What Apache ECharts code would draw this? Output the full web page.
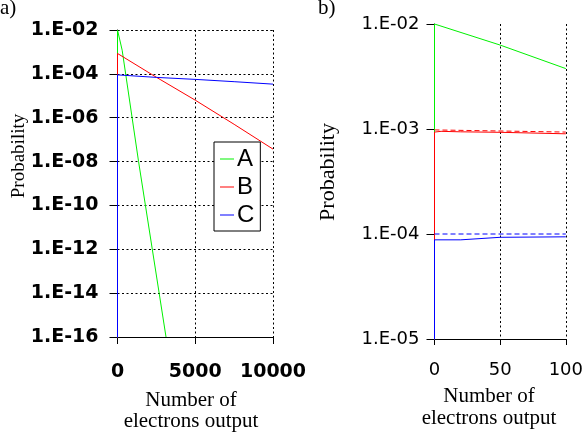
<!DOCTYPE html>
<html>
<head>
<meta charset="utf-8">
<script src="https://cdn.jsdelivr.net/npm/echarts@6/dist/echarts.min.js"></script>
<style>
  html, body { margin: 0; padding: 0; background: #fff; }
  #main { width: 586px; height: 437px; }
</style>
</head>
<body>
<div id="main"></div>
<script>
// panel a) : 0 .. 10000 electrons
var aA = [[0, 1e-20], [0, 1e-2], [300, 1.2e-3], [1355, 1e-8], [3120, 1e-16]];
var aB = [[0, 1e-20], [0, 8.5e-4], [2500, 7e-5], [5000, 6.3e-6], [7500, 5e-7], [10000, 3.7e-8]];
var aC = [[0, 1e-20], [0, 9e-5], [2500, 6.9e-5], [5000, 5.6e-5], [7500, 4.4e-5], [10000, 3.4e-5]];

// panel b) : 0 .. 100 electrons
var bA = [[0, 1e-20], [0, 1e-2], [50, 6.3e-3], [100, 3.76e-3]];
var bB = [[0, 1e-20], [0, 9.35e-4], [5, 9.5e-4], [20, 9.4e-4], [50, 9.3e-4], [100, 9.0e-4]];
var bC = [[0, 1e-20], [0, 8.8e-5], [20, 8.8e-5], [20, 9.1e-5], [50, 9.3e-5], [100, 9.4e-5]];
var bBref = [[0, 9.8e-4], [100, 9.35e-4]];
var bCref = [[0, 1e-4], [100, 1e-4]];

var names = ['A', 'B', 'C'];
var colors = ['#00f000', '#ff0000', '#0000ff'];

var chart = echarts.init(document.getElementById('main'));

// 1e-2 -> "1.E-02"
function expLabel(v) {
  var e = Math.round(Math.log10(v));
  var n = -e;
  return '1.E-' + (n < 10 ? '0' : '') + n;
}

function plain(v) {
  return String(v);
}

function line(name, data, color, x, dash) {
  return {
    name: name,
    type: 'line',
    xAxisIndex: x,
    yAxisIndex: x,
    data: data,
    showSymbol: false,
    clip: true,
    silent: true,
    itemStyle: { color: color },
    lineStyle: { color: color, width: 1, type: dash || 'solid' }
  };
}

var dotted = { color: '#000', width: 1, type: [2, 2.5] };

var option = {
  animation: false,
  backgroundColor: '#fff',
  grid: [
    { left: 117.5, top: 30, width: 155.5, height: 307 },
    { left: 434.5, top: 24, width: 134.5, height: 315 }
  ],
  legend: {
    data: names,
    orient: 'vertical',
    left: 214,
    top: 142,
    padding: [5, 6, 4, 6],
    itemGap: 4,
    itemWidth: 14,
    itemHeight: 1,
    icon: 'rect',
    backgroundColor: '#fff',
    borderColor: '#000',
    borderWidth: 1,
    borderRadius: 0,
    selectedMode: false,
    textStyle: { fontFamily: 'Liberation Sans', fontSize: 24, color: '#000', lineHeight: 24, padding: [0, 0, 0, -2] }
  },
  xAxis: [
    {
      type: 'value', gridIndex: 0, min: 0, max: 10000, interval: 5000,
      axisLine: { lineStyle: { color: '#000', width: 1 } },
      axisTick: { length: 7, lineStyle: { color: '#000' } },
      axisLabel: { margin: 26, color: '#000', fontFamily: 'DejaVu Sans', fontWeight: 'bold', fontSize: 19, formatter: plain },
      splitLine: { show: true, lineStyle: dotted }
    },
    {
      type: 'value', gridIndex: 1, min: 0, max: 100, interval: 50,
      axisLine: { lineStyle: { color: '#000', width: 1 } },
      axisTick: { length: 6, lineStyle: { color: '#000' } },
      axisLabel: { margin: 22, color: '#000', fontFamily: 'DejaVu Sans', fontSize: 18, formatter: plain },
      splitLine: { show: true, lineStyle: dotted }
    }
  ],
  yAxis: [
    {
      type: 'log', logBase: 10, gridIndex: 0, min: 1e-16, max: 1e-2, interval: 2,
      axisLine: { show: true, lineStyle: { color: '#000', width: 1 } },
      axisTick: { show: true, length: 8, lineStyle: { color: '#000' } },
      axisLabel: { margin: 19, color: '#000', fontFamily: 'DejaVu Sans', fontWeight: 'bold', fontSize: 19, formatter: expLabel },
      splitLine: { show: true, lineStyle: dotted },
      minorTick: { show: false }
    },
    {
      type: 'log', logBase: 10, gridIndex: 1, min: 1e-5, max: 1e-2, interval: 1,
      axisLine: { show: true, lineStyle: { color: '#000', width: 1 } },
      axisTick: { show: true, length: 8, lineStyle: { color: '#000' } },
      axisLabel: { margin: 15, color: '#000', fontFamily: 'DejaVu Sans', fontSize: 18, formatter: expLabel },
      splitLine: { show: false },
      minorTick: { show: false }
    }
  ],
  graphic: [
    { type: 'text', left: 0, top: -2, style: { text: 'a)', font: '21px "Liberation Serif"', fill: '#000' } },
    { type: 'text', left: 318, top: -2, style: { text: 'b)', font: '21px "Liberation Serif"', fill: '#000' } },
    { type: 'text', x: 19, y: 156, rotation: Math.PI / 2,
      style: { text: 'Probability', font: '19px "Liberation Serif"', fill: '#000', align: 'center', verticalAlign: 'middle' } },
    { type: 'text', x: 328, y: 172, rotation: Math.PI / 2,
      style: { text: 'Probability', font: '22px "Liberation Serif"', fill: '#000', align: 'center', verticalAlign: 'middle' } },
    { type: 'text', x: 191, y: 390,
      style: { text: 'Number of\nelectrons output', font: '21px "Liberation Serif"', fill: '#000', align: 'center', verticalAlign: 'top', lineHeight: 21 } },
    { type: 'text', x: 489, y: 385,
      style: { text: 'Number of\nelectrons output', font: '21px "Liberation Serif"', fill: '#000', align: 'center', verticalAlign: 'top', lineHeight: 22 } }
  ],
  series: [
    line('A', aA, colors[0], 0),
    line('B', aB, colors[1], 0),
    line('C', aC, colors[2], 0),
    line('A', bA, colors[0], 1),
    line('B ref', bBref, colors[1], 1, [5, 3]),
    line('B', bB, colors[1], 1),
    line('C ref', bCref, colors[2], 1, [5, 3]),
    line('C', bC, colors[2], 1)
  ]
};

chart.setOption(option);
</script>
</body>
</html>
